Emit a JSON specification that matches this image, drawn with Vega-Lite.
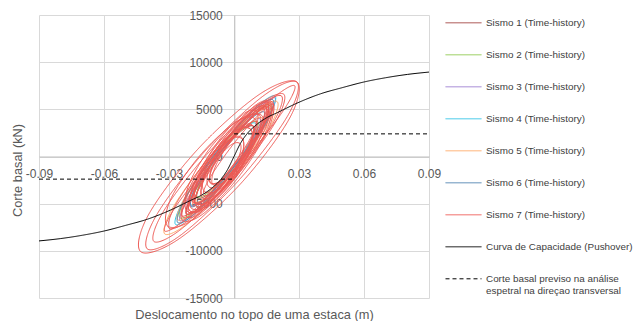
{
"$schema": "https://vega.github.io/schema/vega-lite/v6.json",
"width": 390, "height": 283,
"autosize": {"type": "none"},
"padding": {"left": 39, "top": 15, "right": 204, "bottom": 23},
"background": "white",
"config": {"view": {"stroke": null}, "font": "Liberation Sans"},
"datasets": {
"loops": [
{"s":"Sismo 1 (Time-history)","l":"1a","i":0,"x":0.016,"y":5300},{"s":"Sismo 1 (Time-history)","l":"1a","i":1,"x":0.0083,"y":4266},{"s":"Sismo 1 (Time-history)","l":"1a","i":2,"x":-0.006,"y":500},{"s":"Sismo 1 (Time-history)","l":"1a","i":3,"x":-0.0186,"y":-3794},{"s":"Sismo 1 (Time-history)","l":"1a","i":4,"x":-0.022,"y":-6100},{"s":"Sismo 1 (Time-history)","l":"1a","i":5,"x":-0.0143,"y":-5066},{"s":"Sismo 1 (Time-history)","l":"1a","i":6,"x":0,"y":-1300},{"s":"Sismo 1 (Time-history)","l":"1a","i":7,"x":0.0126,"y":2994},
{"s":"Sismo 1 (Time-history)","l":"1b","i":0,"x":0.009,"y":3200},{"s":"Sismo 1 (Time-history)","l":"1b","i":1,"x":0.0031,"y":2652},{"s":"Sismo 1 (Time-history)","l":"1b","i":2,"x":-0.007,"y":200},{"s":"Sismo 1 (Time-history)","l":"1b","i":3,"x":-0.0153,"y":-2721},{"s":"Sismo 1 (Time-history)","l":"1b","i":4,"x":-0.017,"y":-4400},{"s":"Sismo 1 (Time-history)","l":"1b","i":5,"x":-0.0111,"y":-3852},{"s":"Sismo 1 (Time-history)","l":"1b","i":6,"x":-0.001,"y":-1400},{"s":"Sismo 1 (Time-history)","l":"1b","i":7,"x":0.0073,"y":1521},
{"s":"Sismo 2 (Time-history)","l":"2a","i":0,"x":0.017,"y":5500},{"s":"Sismo 2 (Time-history)","l":"2a","i":1,"x":0.008,"y":4378},{"s":"Sismo 2 (Time-history)","l":"2a","i":2,"x":-0.008,"y":400},{"s":"Sismo 2 (Time-history)","l":"2a","i":3,"x":-0.0217,"y":-4106},{"s":"Sismo 2 (Time-history)","l":"2a","i":4,"x":-0.025,"y":-6500},{"s":"Sismo 2 (Time-history)","l":"2a","i":5,"x":-0.016,"y":-5378},{"s":"Sismo 2 (Time-history)","l":"2a","i":6,"x":0,"y":-1400},{"s":"Sismo 2 (Time-history)","l":"2a","i":7,"x":0.0137,"y":3106},
{"s":"Sismo 2 (Time-history)","l":"2b","i":0,"x":0.011,"y":3700},{"s":"Sismo 2 (Time-history)","l":"2b","i":1,"x":0.0048,"y":3023},{"s":"Sismo 2 (Time-history)","l":"2b","i":2,"x":-0.006,"y":400},{"s":"Sismo 2 (Time-history)","l":"2b","i":3,"x":-0.015,"y":-2633},{"s":"Sismo 2 (Time-history)","l":"2b","i":4,"x":-0.017,"y":-4300},{"s":"Sismo 2 (Time-history)","l":"2b","i":5,"x":-0.0108,"y":-3623},{"s":"Sismo 2 (Time-history)","l":"2b","i":6,"x":0,"y":-1000},{"s":"Sismo 2 (Time-history)","l":"2b","i":7,"x":0.009,"y":2033},
{"s":"Sismo 3 (Time-history)","l":"3a","i":0,"x":0.019,"y":6200},{"s":"Sismo 3 (Time-history)","l":"3a","i":1,"x":0.0104,"y":4861},{"s":"Sismo 3 (Time-history)","l":"3a","i":2,"x":-0.006,"y":500},{"s":"Sismo 3 (Time-history)","l":"3a","i":3,"x":-0.0207,"y":-4330},{"s":"Sismo 3 (Time-history)","l":"3a","i":4,"x":-0.025,"y":-6800},{"s":"Sismo 3 (Time-history)","l":"3a","i":5,"x":-0.0164,"y":-5461},{"s":"Sismo 3 (Time-history)","l":"3a","i":6,"x":0,"y":-1100},{"s":"Sismo 3 (Time-history)","l":"3a","i":7,"x":0.0147,"y":3730},
{"s":"Sismo 3 (Time-history)","l":"3b","i":0,"x":0.012,"y":4000},{"s":"Sismo 3 (Time-history)","l":"3b","i":1,"x":0.0052,"y":3147},{"s":"Sismo 3 (Time-history)","l":"3b","i":2,"x":-0.007,"y":100},{"s":"Sismo 3 (Time-history)","l":"3b","i":3,"x":-0.0174,"y":-3357},{"s":"Sismo 3 (Time-history)","l":"3b","i":4,"x":-0.02,"y":-5200},{"s":"Sismo 3 (Time-history)","l":"3b","i":5,"x":-0.0132,"y":-4347},{"s":"Sismo 3 (Time-history)","l":"3b","i":6,"x":-0.001,"y":-1300},{"s":"Sismo 3 (Time-history)","l":"3b","i":7,"x":0.0094,"y":2157},
{"s":"Sismo 4 (Time-history)","l":"4a","i":0,"x":0.019,"y":6400},{"s":"Sismo 4 (Time-history)","l":"4a","i":1,"x":0.0094,"y":5044},{"s":"Sismo 4 (Time-history)","l":"4a","i":2,"x":-0.008,"y":500},{"s":"Sismo 4 (Time-history)","l":"4a","i":3,"x":-0.0231,"y":-4571},{"s":"Sismo 4 (Time-history)","l":"4a","i":4,"x":-0.027,"y":-7200},{"s":"Sismo 4 (Time-history)","l":"4a","i":5,"x":-0.0174,"y":-5844},{"s":"Sismo 4 (Time-history)","l":"4a","i":6,"x":0,"y":-1300},{"s":"Sismo 4 (Time-history)","l":"4a","i":7,"x":0.0151,"y":3771},
{"s":"Sismo 4 (Time-history)","l":"4b","i":0,"x":0.01,"y":3500},{"s":"Sismo 4 (Time-history)","l":"4b","i":1,"x":0.0035,"y":2876},{"s":"Sismo 4 (Time-history)","l":"4b","i":2,"x":-0.008,"y":100},{"s":"Sismo 4 (Time-history)","l":"4b","i":3,"x":-0.0177,"y":-3204},{"s":"Sismo 4 (Time-history)","l":"4b","i":4,"x":-0.02,"y":-5100},{"s":"Sismo 4 (Time-history)","l":"4b","i":5,"x":-0.0135,"y":-4476},{"s":"Sismo 4 (Time-history)","l":"4b","i":6,"x":-0.002,"y":-1700},{"s":"Sismo 4 (Time-history)","l":"4b","i":7,"x":0.0077,"y":1604},
{"s":"Sismo 5 (Time-history)","l":"5a","i":0,"x":0.02,"y":5800},{"s":"Sismo 5 (Time-history)","l":"5a","i":1,"x":0.0089,"y":4597},{"s":"Sismo 5 (Time-history)","l":"5a","i":2,"x":-0.011,"y":0},{"s":"Sismo 5 (Time-history)","l":"5a","i":3,"x":-0.0279,"y":-5301},{"s":"Sismo 5 (Time-history)","l":"5a","i":4,"x":-0.032,"y":-8200},{"s":"Sismo 5 (Time-history)","l":"5a","i":5,"x":-0.0209,"y":-6997},{"s":"Sismo 5 (Time-history)","l":"5a","i":6,"x":-0.001,"y":-2400},{"s":"Sismo 5 (Time-history)","l":"5a","i":7,"x":0.0159,"y":2901},
{"s":"Sismo 5 (Time-history)","l":"5b","i":0,"x":0.018,"y":5300},{"s":"Sismo 5 (Time-history)","l":"5b","i":1,"x":0.0087,"y":4249},{"s":"Sismo 5 (Time-history)","l":"5b","i":2,"x":-0.008,"y":300},{"s":"Sismo 5 (Time-history)","l":"5b","i":3,"x":-0.0224,"y":-4235},{"s":"Sismo 5 (Time-history)","l":"5b","i":4,"x":-0.026,"y":-6700},{"s":"Sismo 5 (Time-history)","l":"5b","i":5,"x":-0.0167,"y":-5649},{"s":"Sismo 5 (Time-history)","l":"5b","i":6,"x":0,"y":-1700},{"s":"Sismo 5 (Time-history)","l":"5b","i":7,"x":0.0144,"y":2835},
{"s":"Sismo 5 (Time-history)","l":"5c","i":0,"x":0.013,"y":4100},{"s":"Sismo 5 (Time-history)","l":"5c","i":1,"x":0.0062,"y":3347},{"s":"Sismo 5 (Time-history)","l":"5c","i":2,"x":-0.006,"y":400},{"s":"Sismo 5 (Time-history)","l":"5c","i":3,"x":-0.0164,"y":-3016},{"s":"Sismo 5 (Time-history)","l":"5c","i":4,"x":-0.019,"y":-4900},{"s":"Sismo 5 (Time-history)","l":"5c","i":5,"x":-0.0122,"y":-4147},{"s":"Sismo 5 (Time-history)","l":"5c","i":6,"x":0,"y":-1200},{"s":"Sismo 5 (Time-history)","l":"5c","i":7,"x":0.0104,"y":2216},
{"s":"Sismo 6 (Time-history)","l":"6a","i":0,"x":0.018,"y":6000},{"s":"Sismo 6 (Time-history)","l":"6a","i":1,"x":0.0087,"y":4803},{"s":"Sismo 6 (Time-history)","l":"6a","i":2,"x":-0.008,"y":500},{"s":"Sismo 6 (Time-history)","l":"6a","i":3,"x":-0.0224,"y":-4389},{"s":"Sismo 6 (Time-history)","l":"6a","i":4,"x":-0.026,"y":-7000},{"s":"Sismo 6 (Time-history)","l":"6a","i":5,"x":-0.0167,"y":-5803},{"s":"Sismo 6 (Time-history)","l":"6a","i":6,"x":0,"y":-1500},{"s":"Sismo 6 (Time-history)","l":"6a","i":7,"x":0.0144,"y":3389},
{"s":"Sismo 6 (Time-history)","l":"6b","i":0,"x":0.014,"y":4700},{"s":"Sismo 6 (Time-history)","l":"6b","i":1,"x":0.0069,"y":3801},{"s":"Sismo 6 (Time-history)","l":"6b","i":2,"x":-0.006,"y":500},{"s":"Sismo 6 (Time-history)","l":"6b","i":3,"x":-0.0171,"y":-3269},{"s":"Sismo 6 (Time-history)","l":"6b","i":4,"x":-0.02,"y":-5300},{"s":"Sismo 6 (Time-history)","l":"6b","i":5,"x":-0.0129,"y":-4401},{"s":"Sismo 6 (Time-history)","l":"6b","i":6,"x":0,"y":-1100},{"s":"Sismo 6 (Time-history)","l":"6b","i":7,"x":0.0111,"y":2669},
{"s":"Sismo 7 (Time-history)","l":"7a","i":0,"x":0.029,"y":7900},{"s":"Sismo 7 (Time-history)","l":"7a","i":1,"x":0.0132,"y":6367},{"s":"Sismo 7 (Time-history)","l":"7a","i":2,"x":-0.0135,"y":550},{"s":"Sismo 7 (Time-history)","l":"7a","i":3,"x":-0.0356,"y":-6146},{"s":"Sismo 7 (Time-history)","l":"7a","i":4,"x":-0.04,"y":-9800},{"s":"Sismo 7 (Time-history)","l":"7a","i":5,"x":-0.0242,"y":-8267},{"s":"Sismo 7 (Time-history)","l":"7a","i":6,"x":0.0025,"y":-2450},{"s":"Sismo 7 (Time-history)","l":"7a","i":7,"x":0.0246,"y":4246},
{"s":"Sismo 7 (Time-history)","l":"7b","i":0,"x":0.023,"y":6600},{"s":"Sismo 7 (Time-history)","l":"7b","i":1,"x":0.01,"y":5234},{"s":"Sismo 7 (Time-history)","l":"7b","i":2,"x":-0.013,"y":100},{"s":"Sismo 7 (Time-history)","l":"7b","i":3,"x":-0.0325,"y":-5796},{"s":"Sismo 7 (Time-history)","l":"7b","i":4,"x":-0.037,"y":-9000},{"s":"Sismo 7 (Time-history)","l":"7b","i":5,"x":-0.024,"y":-7634},{"s":"Sismo 7 (Time-history)","l":"7b","i":6,"x":-0.001,"y":-2500},{"s":"Sismo 7 (Time-history)","l":"7b","i":7,"x":0.0185,"y":3396},
{"s":"Sismo 7 (Time-history)","l":"7c","i":0,"x":0.022,"y":6400},{"s":"Sismo 7 (Time-history)","l":"7c","i":1,"x":0.0109,"y":5197},{"s":"Sismo 7 (Time-history)","l":"7c","i":2,"x":-0.009,"y":600},{"s":"Sismo 7 (Time-history)","l":"7c","i":3,"x":-0.0259,"y":-4701},{"s":"Sismo 7 (Time-history)","l":"7c","i":4,"x":-0.03,"y":-7600},{"s":"Sismo 7 (Time-history)","l":"7c","i":5,"x":-0.0189,"y":-6397},{"s":"Sismo 7 (Time-history)","l":"7c","i":6,"x":0.001,"y":-1800},{"s":"Sismo 7 (Time-history)","l":"7c","i":7,"x":0.0179,"y":3501},
{"s":"Sismo 7 (Time-history)","l":"7d","i":0,"x":0.028,"y":7500},{"s":"Sismo 7 (Time-history)","l":"7d","i":1,"x":0.0164,"y":5880},{"s":"Sismo 7 (Time-history)","l":"7d","i":2,"x":-0.006,"y":700},{"s":"Sismo 7 (Time-history)","l":"7d","i":3,"x":-0.026,"y":-5008},{"s":"Sismo 7 (Time-history)","l":"7d","i":4,"x":-0.032,"y":-7900},{"s":"Sismo 7 (Time-history)","l":"7d","i":5,"x":-0.0204,"y":-6280},{"s":"Sismo 7 (Time-history)","l":"7d","i":6,"x":0.002,"y":-1100},{"s":"Sismo 7 (Time-history)","l":"7d","i":7,"x":0.022,"y":4608},
{"s":"Sismo 7 (Time-history)","l":"7e","i":0,"x":0.014,"y":5000},{"s":"Sismo 7 (Time-history)","l":"7e","i":1,"x":0.0066,"y":4237},{"s":"Sismo 7 (Time-history)","l":"7e","i":2,"x":-0.007,"y":700},{"s":"Sismo 7 (Time-history)","l":"7e","i":3,"x":-0.0189,"y":-3540},{"s":"Sismo 7 (Time-history)","l":"7e","i":4,"x":-0.022,"y":-6000},{"s":"Sismo 7 (Time-history)","l":"7e","i":5,"x":-0.0146,"y":-5237},{"s":"Sismo 7 (Time-history)","l":"7e","i":6,"x":-0.001,"y":-1700},{"s":"Sismo 7 (Time-history)","l":"7e","i":7,"x":0.0109,"y":2540},
{"s":"Sismo 7 (Time-history)","l":"7f","i":0,"x":0.012,"y":4300},{"s":"Sismo 7 (Time-history)","l":"7f","i":1,"x":0.0048,"y":4013},{"s":"Sismo 7 (Time-history)","l":"7f","i":2,"x":-0.007,"y":1200},{"s":"Sismo 7 (Time-history)","l":"7f","i":3,"x":-0.0164,"y":-2492},{"s":"Sismo 7 (Time-history)","l":"7f","i":4,"x":-0.018,"y":-4900},{"s":"Sismo 7 (Time-history)","l":"7f","i":5,"x":-0.0108,"y":-4613},{"s":"Sismo 7 (Time-history)","l":"7f","i":6,"x":0.001,"y":-1800},{"s":"Sismo 7 (Time-history)","l":"7f","i":7,"x":0.0104,"y":1892},
{"s":"Sismo 7 (Time-history)","l":"7g","i":0,"x":0.015,"y":5200},{"s":"Sismo 7 (Time-history)","l":"7g","i":1,"x":0.0086,"y":4242},{"s":"Sismo 7 (Time-history)","l":"7g","i":2,"x":-0.004,"y":800},{"s":"Sismo 7 (Time-history)","l":"7g","i":3,"x":-0.0154,"y":-3111},{"s":"Sismo 7 (Time-history)","l":"7g","i":4,"x":-0.019,"y":-5200},{"s":"Sismo 7 (Time-history)","l":"7g","i":5,"x":-0.0126,"y":-4242},{"s":"Sismo 7 (Time-history)","l":"7g","i":6,"x":0,"y":-800},{"s":"Sismo 7 (Time-history)","l":"7g","i":7,"x":0.0114,"y":3111},
{"s":"Sismo 7 (Time-history)","l":"7h","i":0,"x":0.009,"y":3200},{"s":"Sismo 7 (Time-history)","l":"7h","i":1,"x":0.0028,"y":2806},{"s":"Sismo 7 (Time-history)","l":"7h","i":2,"x":-0.008,"y":300},{"s":"Sismo 7 (Time-history)","l":"7h","i":3,"x":-0.017,"y":-2850},{"s":"Sismo 7 (Time-history)","l":"7h","i":4,"x":-0.019,"y":-4800},{"s":"Sismo 7 (Time-history)","l":"7h","i":5,"x":-0.0128,"y":-4406},{"s":"Sismo 7 (Time-history)","l":"7h","i":6,"x":-0.002,"y":-1900},{"s":"Sismo 7 (Time-history)","l":"7h","i":7,"x":0.007,"y":1250},
{"s":"Sismo 7 (Time-history)","l":"7i","i":0,"x":0.008,"y":2800},{"s":"Sismo 7 (Time-history)","l":"7i","i":1,"x":0.002,"y":2852},{"s":"Sismo 7 (Time-history)","l":"7i","i":2,"x":-0.007,"y":1000},{"s":"Sismo 7 (Time-history)","l":"7i","i":3,"x":-0.0136,"y":-1673},{"s":"Sismo 7 (Time-history)","l":"7i","i":4,"x":-0.014,"y":-3600},{"s":"Sismo 7 (Time-history)","l":"7i","i":5,"x":-0.008,"y":-3652},{"s":"Sismo 7 (Time-history)","l":"7i","i":6,"x":0.001,"y":-1800},{"s":"Sismo 7 (Time-history)","l":"7i","i":7,"x":0.0076,"y":873},
{"s":"Sismo 7 (Time-history)","l":"7j","i":0,"x":0.017,"y":5700},{"s":"Sismo 7 (Time-history)","l":"7j","i":1,"x":0.0093,"y":4708},{"s":"Sismo 7 (Time-history)","l":"7j","i":2,"x":-0.005,"y":900},{"s":"Sismo 7 (Time-history)","l":"7j","i":3,"x":-0.0176,"y":-3494},{"s":"Sismo 7 (Time-history)","l":"7j","i":4,"x":-0.021,"y":-5900},{"s":"Sismo 7 (Time-history)","l":"7j","i":5,"x":-0.0133,"y":-4908},{"s":"Sismo 7 (Time-history)","l":"7j","i":6,"x":0.001,"y":-1100},{"s":"Sismo 7 (Time-history)","l":"7j","i":7,"x":0.0136,"y":3294},
{"s":"Sismo 7 (Time-history)","l":"7k","i":0,"x":0.004,"y":1900},{"s":"Sismo 7 (Time-history)","l":"7k","i":1,"x":-0.0005,"y":2016},{"s":"Sismo 7 (Time-history)","l":"7k","i":2,"x":-0.007,"y":600},{"s":"Sismo 7 (Time-history)","l":"7k","i":3,"x":-0.0118,"y":-1519},{"s":"Sismo 7 (Time-history)","l":"7k","i":4,"x":-0.012,"y":-3100},{"s":"Sismo 7 (Time-history)","l":"7k","i":5,"x":-0.0075,"y":-3216},{"s":"Sismo 7 (Time-history)","l":"7k","i":6,"x":-0.001,"y":-1800},{"s":"Sismo 7 (Time-history)","l":"7k","i":7,"x":0.0038,"y":319},
{"s":"Sismo 7 (Time-history)","l":"7l","i":0,"x":0.018,"y":5600},{"s":"Sismo 7 (Time-history)","l":"7l","i":1,"x":0.0106,"y":4683},{"s":"Sismo 7 (Time-history)","l":"7l","i":2,"x":-0.003,"y":1200},{"s":"Sismo 7 (Time-history)","l":"7l","i":3,"x":-0.0149,"y":-2811},{"s":"Sismo 7 (Time-history)","l":"7l","i":4,"x":-0.018,"y":-5000},{"s":"Sismo 7 (Time-history)","l":"7l","i":5,"x":-0.0106,"y":-4083},{"s":"Sismo 7 (Time-history)","l":"7l","i":6,"x":0.003,"y":-600},{"s":"Sismo 7 (Time-history)","l":"7l","i":7,"x":0.0149,"y":3411},
{"s":"Sismo 7 (Time-history)","l":"7m","i":0,"x":0.013,"y":4300},{"s":"Sismo 7 (Time-history)","l":"7m","i":1,"x":0.0023,"y":3873},{"s":"Sismo 7 (Time-history)","l":"7m","i":2,"x":-0.015,"y":300},{"s":"Sismo 7 (Time-history)","l":"7m","i":3,"x":-0.0288,"y":-4328},{"s":"Sismo 7 (Time-history)","l":"7m","i":4,"x":-0.031,"y":-7300},{"s":"Sismo 7 (Time-history)","l":"7m","i":5,"x":-0.0203,"y":-6873},{"s":"Sismo 7 (Time-history)","l":"7m","i":6,"x":-0.003,"y":-3300},{"s":"Sismo 7 (Time-history)","l":"7m","i":7,"x":0.0108,"y":1328},
{"s":"Sismo 7 (Time-history)","l":"7n","i":0,"x":0.01,"y":3900},{"s":"Sismo 7 (Time-history)","l":"7n","i":1,"x":0.0018,"y":3766},{"s":"Sismo 7 (Time-history)","l":"7n","i":2,"x":-0.011,"y":900},{"s":"Sismo 7 (Time-history)","l":"7n","i":3,"x":-0.0209,"y":-3021},{"s":"Sismo 7 (Time-history)","l":"7n","i":4,"x":-0.022,"y":-5700},{"s":"Sismo 7 (Time-history)","l":"7n","i":5,"x":-0.0138,"y":-5566},{"s":"Sismo 7 (Time-history)","l":"7n","i":6,"x":-0.001,"y":-2700},{"s":"Sismo 7 (Time-history)","l":"7n","i":7,"x":0.0089,"y":1221},
{"s":"Sismo 7 (Time-history)","l":"7o","i":0,"x":0.017,"y":5300},{"s":"Sismo 7 (Time-history)","l":"7o","i":1,"x":0.0095,"y":4954},{"s":"Sismo 7 (Time-history)","l":"7o","i":2,"x":-0.003,"y":2000},{"s":"Sismo 7 (Time-history)","l":"7o","i":3,"x":-0.0131,"y":-1833},{"s":"Sismo 7 (Time-history)","l":"7o","i":4,"x":-0.015,"y":-4300},{"s":"Sismo 7 (Time-history)","l":"7o","i":5,"x":-0.0075,"y":-3954},{"s":"Sismo 7 (Time-history)","l":"7o","i":6,"x":0.005,"y":-1000},{"s":"Sismo 7 (Time-history)","l":"7o","i":7,"x":0.0151,"y":2833},
{"s":"Sismo 7 (Time-history)","l":"7p","i":0,"x":0.004,"y":1800},{"s":"Sismo 7 (Time-history)","l":"7p","i":1,"x":-0.0023,"y":1735},{"s":"Sismo 7 (Time-history)","l":"7p","i":2,"x":-0.012,"y":-400},{"s":"Sismo 7 (Time-history)","l":"7p","i":3,"x":-0.0193,"y":-3355},{"s":"Sismo 7 (Time-history)","l":"7p","i":4,"x":-0.02,"y":-5400},{"s":"Sismo 7 (Time-history)","l":"7p","i":5,"x":-0.0137,"y":-5335},{"s":"Sismo 7 (Time-history)","l":"7p","i":6,"x":-0.004,"y":-3200},{"s":"Sismo 7 (Time-history)","l":"7p","i":7,"x":0.0033,"y":-245},
{"s":"Sismo 7 (Time-history)","l":"7q","i":0,"x":0.016,"y":4900},{"s":"Sismo 7 (Time-history)","l":"7q","i":1,"x":0.0101,"y":4606},{"s":"Sismo 7 (Time-history)","l":"7q","i":2,"x":0,"y":2200},{"s":"Sismo 7 (Time-history)","l":"7q","i":3,"x":-0.0083,"y":-909},{"s":"Sismo 7 (Time-history)","l":"7q","i":4,"x":-0.01,"y":-2900},{"s":"Sismo 7 (Time-history)","l":"7q","i":5,"x":-0.0041,"y":-2606},{"s":"Sismo 7 (Time-history)","l":"7q","i":6,"x":0.006,"y":-200},{"s":"Sismo 7 (Time-history)","l":"7q","i":7,"x":0.0143,"y":2909},
{"s":"Sismo 7 (Time-history)","l":"7r","i":0,"x":0.018,"y":5700},{"s":"Sismo 7 (Time-history)","l":"7r","i":1,"x":0.0083,"y":5085},{"s":"Sismo 7 (Time-history)","l":"7r","i":2,"x":-0.008,"y":1200},{"s":"Sismo 7 (Time-history)","l":"7r","i":3,"x":-0.0214,"y":-3682},{"s":"Sismo 7 (Time-history)","l":"7r","i":4,"x":-0.024,"y":-6700},{"s":"Sismo 7 (Time-history)","l":"7r","i":5,"x":-0.0143,"y":-6085},{"s":"Sismo 7 (Time-history)","l":"7r","i":6,"x":0.002,"y":-2200},{"s":"Sismo 7 (Time-history)","l":"7r","i":7,"x":0.0154,"y":2682},
{"s":"Sismo 7 (Time-history)","l":"7s","i":0,"x":0.003,"y":1300},{"s":"Sismo 7 (Time-history)","l":"7s","i":1,"x":-0.0005,"y":1350},{"s":"Sismo 7 (Time-history)","l":"7s","i":2,"x":-0.006,"y":200},{"s":"Sismo 7 (Time-history)","l":"7s","i":3,"x":-0.0104,"y":-1478},{"s":"Sismo 7 (Time-history)","l":"7s","i":4,"x":-0.011,"y":-2700},{"s":"Sismo 7 (Time-history)","l":"7s","i":5,"x":-0.0075,"y":-2750},{"s":"Sismo 7 (Time-history)","l":"7s","i":6,"x":-0.002,"y":-1600},{"s":"Sismo 7 (Time-history)","l":"7s","i":7,"x":0.0024,"y":78},
{"s":"Sismo 7 (Time-history)","l":"7t","i":0,"x":0.009,"y":3200},{"s":"Sismo 7 (Time-history)","l":"7t","i":1,"x":0.004,"y":3028},{"s":"Sismo 7 (Time-history)","l":"7t","i":2,"x":-0.004,"y":1200},{"s":"Sismo 7 (Time-history)","l":"7t","i":3,"x":-0.0102,"y":-1214},{"s":"Sismo 7 (Time-history)","l":"7t","i":4,"x":-0.011,"y":-2800},{"s":"Sismo 7 (Time-history)","l":"7t","i":5,"x":-0.006,"y":-2628},{"s":"Sismo 7 (Time-history)","l":"7t","i":6,"x":0.002,"y":-800},{"s":"Sismo 7 (Time-history)","l":"7t","i":7,"x":0.0082,"y":1614},
{"s":"Sismo 7 (Time-history)","l":"7u","i":0,"x":0.01,"y":3700},{"s":"Sismo 7 (Time-history)","l":"7u","i":1,"x":0.0029,"y":2730},{"s":"Sismo 7 (Time-history)","l":"7u","i":2,"x":-0.01,"y":-600},{"s":"Sismo 7 (Time-history)","l":"7u","i":3,"x":-0.0211,"y":-4340},{"s":"Sismo 7 (Time-history)","l":"7u","i":4,"x":-0.024,"y":-6300},{"s":"Sismo 7 (Time-history)","l":"7u","i":5,"x":-0.0169,"y":-5330},{"s":"Sismo 7 (Time-history)","l":"7u","i":6,"x":-0.004,"y":-2000},{"s":"Sismo 7 (Time-history)","l":"7u","i":7,"x":0.0071,"y":1740},
{"s":"Sismo 7 (Time-history)","l":"7v","i":0,"x":0.018,"y":5500},{"s":"Sismo 7 (Time-history)","l":"7v","i":1,"x":0.0119,"y":4547},{"s":"Sismo 7 (Time-history)","l":"7v","i":2,"x":0,"y":1400},{"s":"Sismo 7 (Time-history)","l":"7v","i":3,"x":-0.0107,"y":-2099},{"s":"Sismo 7 (Time-history)","l":"7v","i":4,"x":-0.014,"y":-3900},{"s":"Sismo 7 (Time-history)","l":"7v","i":5,"x":-0.0079,"y":-2947},{"s":"Sismo 7 (Time-history)","l":"7v","i":6,"x":0.004,"y":200},{"s":"Sismo 7 (Time-history)","l":"7v","i":7,"x":0.0147,"y":3699},
{"s":"Sismo 7 (Time-history)","l":"7w","i":0,"x":0.008,"y":2800},{"s":"Sismo 7 (Time-history)","l":"7w","i":1,"x":0.0014,"y":2818},{"s":"Sismo 7 (Time-history)","l":"7w","i":2,"x":-0.009,"y":600},{"s":"Sismo 7 (Time-history)","l":"7w","i":3,"x":-0.017,"y":-2555},{"s":"Sismo 7 (Time-history)","l":"7w","i":4,"x":-0.018,"y":-4800},{"s":"Sismo 7 (Time-history)","l":"7w","i":5,"x":-0.0114,"y":-4818},{"s":"Sismo 7 (Time-history)","l":"7w","i":6,"x":-0.001,"y":-2600},{"s":"Sismo 7 (Time-history)","l":"7w","i":7,"x":0.007,"y":555},
{"s":"Sismo 7 (Time-history)","l":"7x","i":0,"x":0.029,"y":7900},{"s":"Sismo 7 (Time-history)","l":"7x","i":1,"x":0.0114,"y":6536},{"s":"Sismo 7 (Time-history)","l":"7x","i":2,"x":-0.017,"y":700},{"s":"Sismo 7 (Time-history)","l":"7x","i":3,"x":-0.0395,"y":-6190},{"s":"Sismo 7 (Time-history)","l":"7x","i":4,"x":-0.043,"y":-10100},{"s":"Sismo 7 (Time-history)","l":"7x","i":5,"x":-0.0254,"y":-8736},{"s":"Sismo 7 (Time-history)","l":"7x","i":6,"x":0.003,"y":-2900},{"s":"Sismo 7 (Time-history)","l":"7x","i":7,"x":0.0255,"y":3990},
{"s":"Sismo 7 (Time-history)","l":"7y","i":0,"x":0.016,"y":5700},{"s":"Sismo 7 (Time-history)","l":"7y","i":1,"x":0.0087,"y":5215},{"s":"Sismo 7 (Time-history)","l":"7y","i":2,"x":-0.006,"y":1500},{"s":"Sismo 7 (Time-history)","l":"7y","i":3,"x":-0.0196,"y":-3269},{"s":"Sismo 7 (Time-history)","l":"7y","i":4,"x":-0.024,"y":-6300},{"s":"Sismo 7 (Time-history)","l":"7y","i":5,"x":-0.0167,"y":-5815},{"s":"Sismo 7 (Time-history)","l":"7y","i":6,"x":-0.002,"y":-2100},{"s":"Sismo 7 (Time-history)","l":"7y","i":7,"x":0.0116,"y":2669},
{"s":"Sismo 7 (Time-history)","l":"7z","i":0,"x":0.016,"y":5000},{"s":"Sismo 7 (Time-history)","l":"7z","i":1,"x":0.0097,"y":4773},{"s":"Sismo 7 (Time-history)","l":"7z","i":2,"x":-0.004,"y":1400},{"s":"Sismo 7 (Time-history)","l":"7z","i":3,"x":-0.0171,"y":-3145},{"s":"Sismo 7 (Time-history)","l":"7z","i":4,"x":-0.022,"y":-6200},{"s":"Sismo 7 (Time-history)","l":"7z","i":5,"x":-0.0157,"y":-5973},{"s":"Sismo 7 (Time-history)","l":"7z","i":6,"x":-0.002,"y":-2600},{"s":"Sismo 7 (Time-history)","l":"7z","i":7,"x":0.0111,"y":1945},
{"s":"Sismo 7 (Time-history)","l":"7aa","i":0,"x":0.011,"y":4500},{"s":"Sismo 7 (Time-history)","l":"7aa","i":1,"x":0.0049,"y":4590},{"s":"Sismo 7 (Time-history)","l":"7aa","i":2,"x":-0.007,"y":1700},{"s":"Sismo 7 (Time-history)","l":"7aa","i":3,"x":-0.0177,"y":-2480},{"s":"Sismo 7 (Time-history)","l":"7aa","i":4,"x":-0.021,"y":-5500},{"s":"Sismo 7 (Time-history)","l":"7aa","i":5,"x":-0.0149,"y":-5590},{"s":"Sismo 7 (Time-history)","l":"7aa","i":6,"x":-0.003,"y":-2700},{"s":"Sismo 7 (Time-history)","l":"7aa","i":7,"x":0.0077,"y":1480},
{"s":"Sismo 7 (Time-history)","l":"7ab","i":0,"x":0.016,"y":5400},{"s":"Sismo 7 (Time-history)","l":"7ab","i":1,"x":0.0103,"y":5290},{"s":"Sismo 7 (Time-history)","l":"7ab","i":2,"x":-0.002,"y":2200},{"s":"Sismo 7 (Time-history)","l":"7ab","i":3,"x":-0.0137,"y":-2062},{"s":"Sismo 7 (Time-history)","l":"7ab","i":4,"x":-0.018,"y":-5000},{"s":"Sismo 7 (Time-history)","l":"7ab","i":5,"x":-0.0123,"y":-4890},{"s":"Sismo 7 (Time-history)","l":"7ab","i":6,"x":0,"y":-1800},{"s":"Sismo 7 (Time-history)","l":"7ab","i":7,"x":0.0117,"y":2462},
{"s":"Sismo 7 (Time-history)","l":"7ac","i":0,"x":0.009,"y":3100},{"s":"Sismo 7 (Time-history)","l":"7ac","i":1,"x":0.0032,"y":3183},{"s":"Sismo 7 (Time-history)","l":"7ac","i":2,"x":-0.008,"y":700},{"s":"Sismo 7 (Time-history)","l":"7ac","i":3,"x":-0.018,"y":-2897},{"s":"Sismo 7 (Time-history)","l":"7ac","i":4,"x":-0.021,"y":-5500},{"s":"Sismo 7 (Time-history)","l":"7ac","i":5,"x":-0.0152,"y":-5583},{"s":"Sismo 7 (Time-history)","l":"7ac","i":6,"x":-0.004,"y":-3100},{"s":"Sismo 7 (Time-history)","l":"7ac","i":7,"x":0.006,"y":497},
{"s":"Sismo 7 (Time-history)","l":"7ad","i":0,"x":0.015,"y":5100},{"s":"Sismo 7 (Time-history)","l":"7ad","i":1,"x":0.0092,"y":4983},{"s":"Sismo 7 (Time-history)","l":"7ad","i":2,"x":-0.002,"y":2300},{"s":"Sismo 7 (Time-history)","l":"7ad","i":3,"x":-0.012,"y":-1380},{"s":"Sismo 7 (Time-history)","l":"7ad","i":4,"x":-0.015,"y":-3900},{"s":"Sismo 7 (Time-history)","l":"7ad","i":5,"x":-0.0092,"y":-3783},{"s":"Sismo 7 (Time-history)","l":"7ad","i":6,"x":0.002,"y":-1100},{"s":"Sismo 7 (Time-history)","l":"7ad","i":7,"x":0.012,"y":2580}
],
"lines": [
{"s":"Curva de Capacidade (Pushover)","l":"p","x":-0.09,"y":-8950},{"s":"Curva de Capacidade (Pushover)","l":"p","x":-0.08,"y":-8700},{"s":"Curva de Capacidade (Pushover)","l":"p","x":-0.07,"y":-8350},{"s":"Curva de Capacidade (Pushover)","l":"p","x":-0.06,"y":-7900},{"s":"Curva de Capacidade (Pushover)","l":"p","x":-0.05,"y":-7300},{"s":"Curva de Capacidade (Pushover)","l":"p","x":-0.04,"y":-6650},{"s":"Curva de Capacidade (Pushover)","l":"p","x":-0.03,"y":-5750},{"s":"Curva de Capacidade (Pushover)","l":"p","x":-0.02,"y":-4650},{"s":"Curva de Capacidade (Pushover)","l":"p","x":-0.015,"y":-4100},{"s":"Curva de Capacidade (Pushover)","l":"p","x":-0.01,"y":-3300},{"s":"Curva de Capacidade (Pushover)","l":"p","x":-0.006,"y":-2400},{"s":"Curva de Capacidade (Pushover)","l":"p","x":-0.003,"y":-1400},{"s":"Curva de Capacidade (Pushover)","l":"p","x":0,"y":0},{"s":"Curva de Capacidade (Pushover)","l":"p","x":0.003,"y":1400},{"s":"Curva de Capacidade (Pushover)","l":"p","x":0.006,"y":2400},{"s":"Curva de Capacidade (Pushover)","l":"p","x":0.01,"y":3300},{"s":"Curva de Capacidade (Pushover)","l":"p","x":0.015,"y":4100},{"s":"Curva de Capacidade (Pushover)","l":"p","x":0.02,"y":4650},{"s":"Curva de Capacidade (Pushover)","l":"p","x":0.03,"y":5750},{"s":"Curva de Capacidade (Pushover)","l":"p","x":0.04,"y":6650},{"s":"Curva de Capacidade (Pushover)","l":"p","x":0.05,"y":7300},{"s":"Curva de Capacidade (Pushover)","l":"p","x":0.06,"y":7900},{"s":"Curva de Capacidade (Pushover)","l":"p","x":0.07,"y":8350},{"s":"Curva de Capacidade (Pushover)","l":"p","x":0.08,"y":8700},{"s":"Curva de Capacidade (Pushover)","l":"p","x":0.09,"y":8950},
{"s":"Corte basal previso na análise espetral na direçao transversal","l":"d1","x":-0.09,"y":-2400},{"s":"Corte basal previso na análise espetral na direçao transversal","l":"d1","x":0,"y":-2400},
{"s":"Corte basal previso na análise espetral na direçao transversal","l":"d2","x":0,"y":2400},{"s":"Corte basal previso na análise espetral na direçao transversal","l":"d2","x":0.09,"y":2400}
]
},
"encoding": {
"x": {"field": "x", "type": "quantitative", "scale": {"domain": [-0.09, 0.09], "nice": false, "zero": false},
 "axis": {"values": [-0.09, -0.06, -0.03, 0, 0.03, 0.06, 0.09], "title": "Deslocamento no topo de uma estaca (m)", "offset": -141.5, "ticks": false, "labelPadding": 12, "labelFontSize": 12, "labelColor": "#595959", "labelExpr": "datum.value == 0 ? '0' : (datum.value < 0 ? '-' : '') + format(abs(datum.value), '.2f')", "labelFlush": false, "labelOverlap": false, "grid": true, "gridColor": "#D9D9D9", "domainColor": "#BFBFBF", "titleX": 215, "titleY": 158, "titleBaseline": "middle", "titleFontSize": 12.8, "titleFontWeight": "normal", "titleColor": "#595959"}},
"y": {"field": "y", "type": "quantitative", "scale": {"domain": [-15000, 15000], "nice": false},
 "axis": {"values": [-15000, -10000, -5000, 0, 5000, 10000, 15000], "title": "Corte basal (kN)", "offset": -195.3, "ticks": false, "labelPadding": 12, "labelFontSize": 12, "labelColor": "#595959", "labelExpr": "(datum.value < 0 ? '-' : '') + format(abs(datum.value), 'd')", "labelOverlap": false, "grid": true, "gridColor": "#D9D9D9", "domainColor": "#BFBFBF", "titleX": -217, "titleY": 155, "titleBaseline": "middle", "titleAlign": "center", "titleFontSize": 12.8, "titleFontWeight": "normal", "titleColor": "#595959"}},
"color": {"field": "s", "type": "nominal", "title": null,
 "scale": {"domain": ["Sismo 1 (Time-history)","Sismo 2 (Time-history)","Sismo 3 (Time-history)","Sismo 4 (Time-history)","Sismo 5 (Time-history)","Sismo 6 (Time-history)","Sismo 7 (Time-history)","Curva de Capacidade (Pushover)","Corte basal previso na análise espetral na direçao transversal"],
  "range": ["#A0403C","#8CC84B","#9B7BD0","#2EC4E6","#FFA864","#4A80B0","#EE5A55","#000000","#000000"]},
 "legend": {"orient": "none", "legendX": 406, "legendY": -10.7, "symbolType": "stroke", "symbolSize": 1296, "labelFontSize": 9.9, "labelColor": "#404040", "rowPadding": 8.0, "labelLimit": 300, "labelOffset": 4, "labelExpr": "datum.label == 'Corte basal previso na análise espetral na direçao transversal' ? ['Corte basal previso na análise', 'espetral na direçao transversal'] : datum.label"}},
"strokeDash": {"field": "s", "type": "nominal", "title": null,
 "scale": {"domain": ["Sismo 1 (Time-history)","Sismo 2 (Time-history)","Sismo 3 (Time-history)","Sismo 4 (Time-history)","Sismo 5 (Time-history)","Sismo 6 (Time-history)","Sismo 7 (Time-history)","Curva de Capacidade (Pushover)","Corte basal previso na análise espetral na direçao transversal"],
  "range": [[1,0],[1,0],[1,0],[1,0],[1,0],[1,0],[1,0],[1,0],[4,3]]},
 "legend": {"orient": "none", "legendX": 406, "legendY": -10.7, "symbolType": "stroke", "symbolSize": 1296, "labelFontSize": 9.9, "labelColor": "#404040", "rowPadding": 8.0, "labelLimit": 300, "labelOffset": 4, "labelExpr": "datum.label == 'Corte basal previso na análise espetral na direçao transversal' ? ['Corte basal previso na análise', 'espetral na direçao transversal'] : datum.label"}},
"strokeWidth": {"field": "s", "type": "nominal", "title": null,
 "scale": {"domain": ["Sismo 1 (Time-history)","Sismo 2 (Time-history)","Sismo 3 (Time-history)","Sismo 4 (Time-history)","Sismo 5 (Time-history)","Sismo 6 (Time-history)","Sismo 7 (Time-history)","Curva de Capacidade (Pushover)","Corte basal previso na análise espetral na direçao transversal"],
  "range": [1,1,1,1,1,1,1.3,2,1.5]},
 "legend": {"orient": "none", "legendX": 406, "legendY": -10.7, "symbolType": "stroke", "symbolSize": 1296, "labelFontSize": 9.9, "labelColor": "#404040", "rowPadding": 8.0, "labelLimit": 300, "labelOffset": 4, "labelExpr": "datum.label == 'Corte basal previso na análise espetral na direçao transversal' ? ['Corte basal previso na análise', 'espetral na direçao transversal'] : datum.label"}},
"detail": {"field": "l", "type": "nominal"}
},
"layer": [
{"data": {"name": "loops"}, "mark": {"type": "line", "interpolate": "cardinal-closed", "clip": true},
 "encoding": {"order": {"field": "i", "type": "quantitative"}}},
{"data": {"name": "lines"}, "mark": {"type": "line", "interpolate": "monotone", "clip": true}}
]
}
